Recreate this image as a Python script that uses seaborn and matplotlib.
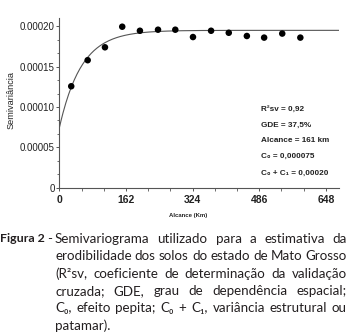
import numpy as np
import pandas as pd
import matplotlib
matplotlib.use("Agg")
import matplotlib.pyplot as plt
from matplotlib.ticker import MultipleLocator, FuncFormatter
import seaborn as sns

lag_km = [29, 69, 111, 153, 196, 240, 282, 325, 369, 412, 456, 498, 542, 586]
semivar = [0.0001257, 0.000158, 0.000174, 0.0001995, 0.0001945, 0.0001958,
           0.0001958, 0.0001867, 0.0001945, 0.000192, 0.000188, 0.000186,
           0.000191, 0.000186]

# fitted exponential model
nugget = 0.000074
sill = 0.000195
alcance = 161

stats_lines = ["R²sv = 0,92", "GDE = 37,5%", "Alcance = 161 km",
               "C₀ = 0,000075", "C₀ + C₁ = 0,00020"]
xticks = [0, 162, 324, 486, 648]
yticks = [0, 0.00005, 0.0001, 0.00015, 0.0002]

caption_lines = [
    "Semivariograma utilizado para a estimativa da",
    "erodibilidade dos solos do estado de Mato Grosso",
    "(R²sv, coeficiente de determinação da validação",
    "cruzada; GDE, grau de dependência espacial;",
    "C₀, efeito pepita; C₀ + C₁, variância estrutural ou",
    "patamar).",
]

sns.set_style("ticks")
plt.rcParams["font.family"] = ["Liberation Sans", "DejaVu Sans"]

W, H = 357, 332
fig = plt.figure(figsize=(W / 100, H / 100), dpi=100)
ax = fig.add_axes([59.3 / W, 1 - 187.7 / H, (339 - 59.3) / W, (187.7 - 18) / H])

# model curve
h = np.linspace(0, 680, 300)
model = pd.DataFrame({"h": h, "g": nugget + (sill - nugget) * (1 - np.exp(-3 * h / alcance))})
sns.lineplot(data=model, x="h", y="g", ax=ax, color="#555555", lw=0.8)

pts = pd.DataFrame({"lag": lag_km, "gamma": semivar})
sns.scatterplot(data=pts, x="lag", y="gamma", ax=ax, color="black", s=22,
                edgecolor="none", zorder=3)

ax.set_xlim(0, 680)
ax.set_ylim(0, 0.0002103)
ax.set_xticks(xticks)
ax.set_yticks(yticks)
ax.xaxis.set_minor_locator(MultipleLocator(54))
ax.yaxis.set_minor_locator(MultipleLocator(0.00005 / 3))
ax.yaxis.set_major_formatter(FuncFormatter(lambda v, p: "0" if v == 0 else f"{v:.5f}"))
ax.set_xlabel("")
ax.set_ylabel("")
sns.despine(ax=ax)
for s in ["left", "bottom"]:
    ax.spines[s].set_color("#555555")
    ax.spines[s].set_linewidth(0.8)
ax.tick_params(axis="both", which="major", length=2.5, width=0.7, color="#555555")
ax.tick_params(axis="both", which="minor", length=1.8, width=0.6, color="#555555")
ax.tick_params(axis="y", labelsize=7, pad=0.8, labelcolor="#222222")
ax.tick_params(axis="x", labelsize=7.5, pad=2.5, labelcolor="#222222")
for lab in ax.get_xticklabels():
    lab.set_family(["Liberation Sans Narrow", "Liberation Sans", "DejaVu Sans"])
    lab.set_weight("bold")

fig.text(11 / W, 1 - 100 / H, "Semivariância", rotation=90, ha="center",
         va="center", fontsize=6.6, color="#222222")
fig.text(188 / W, 1 - 215.5 / H, "Alcance (Km)", ha="center", va="center",
         fontsize=4.3, weight="bold", color="#222222")

for i, t in enumerate(stats_lines):
    y = [109, 125, 141, 156.7, 173][i]
    fig.text(261 / W, 1 - y / H, t, ha="left", va="center", fontsize=5.9,
             weight="bold", color="#222222")

# caption, justified like the printed figure
cap_font = ["Lato", "DejaVu Sans"]
cap_size = 9.6
cap_color = "#231f20"
renderer = fig.canvas.get_renderer()

fig_lab = fig.text(0.5 / W, 1 - 238 / H, "Figura 2", ha="left", va="center_baseline",
                   fontsize=cap_size, weight="bold", family=cap_font, color=cap_color)
wlab = fig_lab.get_window_extent(renderer).width
fig_lab.set_fontsize(cap_size * min(1, 45.5 / wlab))
fig.text(47.5 / W, 1 - 238 / H, "-", ha="left", va="center_baseline",
         fontsize=cap_size, family=cap_font, color=cap_color)

x0, x1 = 55, 347
line_y = [238, 255.3, 272.6, 289.9, 307.2, 324.5]
for i, line in enumerate(caption_lines):
    words = line.split(" ")
    objs = [fig.text(0, 1 - line_y[i] / H, w, ha="left", va="center_baseline",
                     fontsize=cap_size, family=cap_font, color=cap_color)
            for w in words]
    widths = [o.get_window_extent(renderer).width for o in objs]
    if i < len(caption_lines) - 1 and len(words) > 1:
        gap = (x1 - x0 - sum(widths)) / (len(words) - 1)
    else:
        gap = objs[0].get_window_extent(renderer).height * 0.25
    x = x0
    for o, wdt in zip(objs, widths):
        o.set_x(x / W)
        x += wdt + gap

fig.savefig("out.png", dpi=100)
